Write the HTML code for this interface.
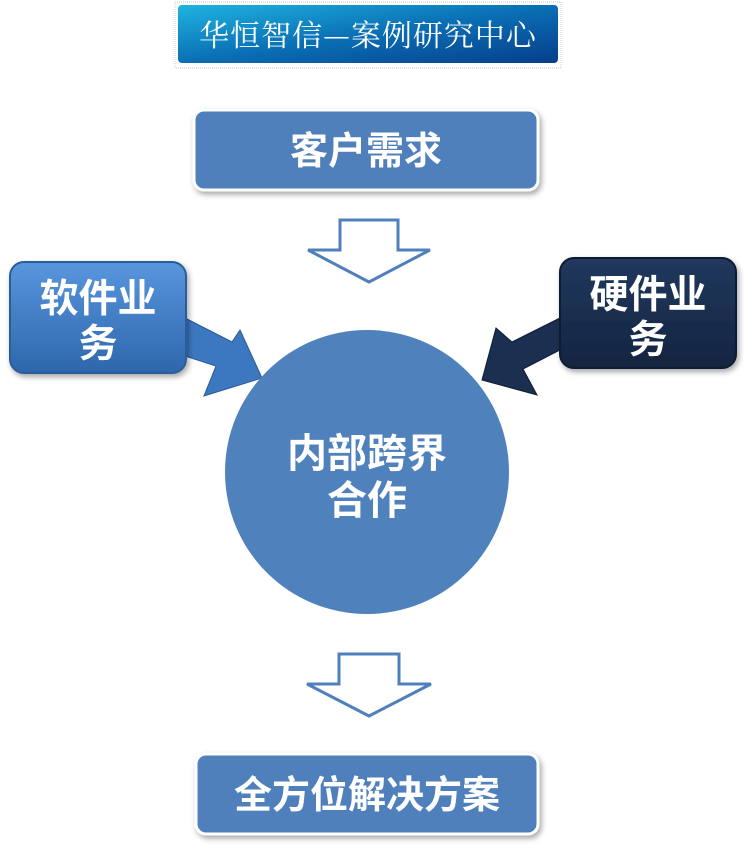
<!DOCTYPE html>
<html><head><meta charset="utf-8"><style>
html,body{margin:0;padding:0;background:#fff;}
svg text{font-family:"Liberation Sans","Noto Sans CJK SC",sans-serif;font-weight:bold;fill:#fff;text-anchor:middle;}
</style></head><body>
<svg width="744" height="848" viewBox="0 0 744 848" xmlns="http://www.w3.org/2000/svg">
<defs>
<linearGradient id="tg" x1="0" y1="0" x2="1" y2="1">
<stop offset="0" stop-color="#1fb4e0"/><stop offset="0.5" stop-color="#0a6fb5"/><stop offset="1" stop-color="#063e8a"/>
</linearGradient>
<linearGradient id="lg" x1="0" y1="0" x2="0" y2="1">
<stop offset="0" stop-color="#5896de"/><stop offset="1" stop-color="#2e66ab"/>
</linearGradient>
<linearGradient id="rg" x1="0" y1="0" x2="0" y2="1">
<stop offset="0" stop-color="#21385e"/><stop offset="1" stop-color="#142440"/>
</linearGradient>
<filter id="sh" x="-10%" y="-10%" width="130%" height="140%"><feDropShadow dx="2" dy="3" stdDeviation="3" flood-color="#000" flood-opacity="0.35"/></filter>
</defs>
<rect x="175" y="2" width="386" height="66" fill="#fff" stroke="#ccc" stroke-dasharray="1 1"/>
<rect x="178" y="5" width="380" height="58" rx="4" fill="url(#tg)"/>
<text x="368" y="46" font-size="30" letter-spacing="1" style="font-family:'Noto Serif CJK SC',serif;font-weight:normal">华恒智信—案例研究中心</text>

<rect x="194" y="110" width="344" height="80" rx="10" fill="#5080bc" stroke="#fff" stroke-width="3" filter="url(#sh)"/>
<text x="366" y="164" font-size="38">客户需求</text>

<polygon points="340,220 398,220 398,250 430,250 369,282 308,250 340,250" fill="#fff" stroke="#5080bc" stroke-width="3"/>

<polygon points="185,318 232,342 240,330 262,378 204,396 216,366 185,356" fill="#3c78c0" stroke="#2a5a95" stroke-width="1"/>
<rect x="10" y="262" width="176" height="111" rx="14" fill="url(#lg)" stroke="#2c5d99" stroke-width="2" filter="url(#sh)"/>
<text x="98" y="312" font-size="39">软件业</text>
<text x="98" y="357" font-size="39">务</text>

<polygon points="560,318 512,342 496,328 482,380 537,395 523,369 560,350" fill="#1b2f50" stroke="#0f1c33" stroke-width="1"/>
<rect x="560" y="258" width="176" height="110" rx="14" fill="url(#rg)" stroke="#0f1c33" stroke-width="2" filter="url(#sh)"/>
<text x="648" y="308" font-size="39">硬件业</text>
<text x="648" y="353" font-size="39">务</text>

<circle cx="367" cy="472" r="142" fill="#4f81bd"/>
<text x="367" y="467" font-size="40">内部跨界</text>
<text x="367" y="514" font-size="40">合作</text>

<polygon points="339,654 399,654 399,684 431,684 369,716 307,684 339,684" fill="#fff" stroke="#5080bc" stroke-width="3"/>

<rect x="196" y="754" width="342" height="80" rx="10" fill="#5080bc" stroke="#fff" stroke-width="3" filter="url(#sh)"/>
<text x="367" y="808" font-size="38">全方位解决方案</text>
</svg>
</body></html>
